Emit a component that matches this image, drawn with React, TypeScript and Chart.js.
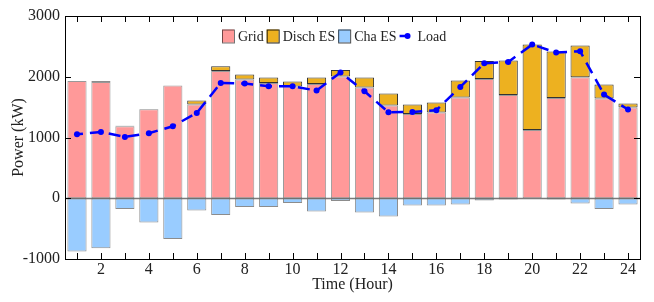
import React, { useEffect, useRef } from 'react';
import { Chart, registerables } from 'chart.js';

Chart.register(...registerables);

const hours = ['1','2','3','4','5','6','7','8','9','10','11','12','13','14','15','16','17','18','19','20','21','22','23','24'];
const gridPower = [1930,1915,1185,1465,1855,1542,2096,1953,1898,1838,1882,2003,1822,1525,1388,1410,1657,1964,1701,1125,1651,1992,1641,1493];
const dischES = [0,10,10,5,0,66,77,83,88,82,104,109,164,198,154,165,280,297,565,1405,764,522,230,66];
const chaES = [-878,-823,-176,-400,-669,-203,-274,-143,-143,-77,-219,-44,-235,-301,-120,-120,-104,-38,-22,0,-22,-88,-176,-104];
const load = [1053,1092,1010,1070,1185,1404,1898,1887,1843,1843,1772,2069,1761,1415,1421,1449,1833,2222,2244,2530,2398,2420,1706,1460];
const yTicks = [-1000, 0, 1000, 2000, 3000];

const FONT = "'Liberation Serif', 'Times New Roman', serif";
const C_GRID = '#FF9999';
const C_DISCH = '#EDB120';
const C_CHA = '#99CCFF';
const C_LOAD = '#0000FF';

const framePlugin = {
  id: 'frame',
  afterDatasetsDraw(chart: any) {
    const { ctx, chartArea, scales } = chart;
    const y0 = Math.round(scales.y.getPixelForValue(0)) + 0.5;
    ctx.save();
    ctx.strokeStyle = 'rgba(100,100,100,0.85)';
    ctx.lineWidth = 1.5;
    ctx.beginPath();
    ctx.moveTo(chartArea.left, y0);
    ctx.lineTo(chartArea.right, y0);
    ctx.stroke();
    ctx.restore();
  },
  afterDraw(chart: any) {
    const { ctx, chartArea, scales } = chart;
    const { left, right, top, bottom } = chartArea;
    ctx.save();
    ctx.strokeStyle = '#000';
    ctx.lineWidth = 1;
    ctx.strokeRect(Math.round(left) + 0.5, Math.round(top) + 0.5, Math.round(right - left), Math.round(bottom - top));
    ctx.beginPath();
    scales.x.ticks.forEach((_: any, i: number) => {
      const px = Math.round(scales.x.getPixelForTick(i)) + 0.5;
      ctx.moveTo(px, bottom);
      ctx.lineTo(px, bottom - 6);
      ctx.moveTo(px, top);
      ctx.lineTo(px, top + 6);
    });
    scales.y.ticks.forEach((_: any, i: number) => {
      const py = Math.round(scales.y.getPixelForTick(i)) + 0.5;
      ctx.moveTo(left, py);
      ctx.lineTo(left + 6, py);
      ctx.moveTo(right, py);
      ctx.lineTo(right - 6, py);
    });
    ctx.stroke();

    // legend
    ctx.font = `14px ${FONT}`;
    ctx.textBaseline = 'middle';
    ctx.fillStyle = '#222';
    const cy = 36;
    let x = 222;
    const boxes = [
      { label: 'Grid', fill: C_GRID, stroke: 'rgba(0,0,0,0.55)' },
      { label: 'Disch ES', fill: C_DISCH, stroke: 'rgba(0,0,0,0.85)' },
      { label: 'Cha ES', fill: C_CHA, stroke: 'rgba(0,0,0,0.7)' },
    ];
    boxes.forEach((b) => {
      ctx.fillStyle = b.fill;
      ctx.fillRect(x, cy - 6.5, 12, 13);
      ctx.strokeStyle = b.stroke;
      ctx.strokeRect(x + 0.5, cy - 6.5 + 0.5, 12, 13);
      ctx.fillStyle = '#222';
      ctx.fillText(b.label, x + 16, cy + 1);
      x += 16 + ctx.measureText(b.label).width + 3;
    });
    ctx.strokeStyle = C_LOAD;
    ctx.lineWidth = 2.5;
    ctx.beginPath();
    ctx.moveTo(x, cy);
    ctx.lineTo(x + 9, cy);
    ctx.stroke();
    ctx.fillStyle = C_LOAD;
    ctx.beginPath();
    ctx.arc(x + 8, cy, 3, 0, Math.PI * 2);
    ctx.fill();
    ctx.fillStyle = '#222';
    ctx.fillText('Load', x + 18, cy + 1);
    ctx.restore();
  },
};

export default function App() {
  const ref = useRef<HTMLCanvasElement>(null);
  useEffect(() => {
    document.body.style.margin = '0';
    const chart = new Chart(ref.current!, {
      type: 'bar',
      data: {
        labels: hours,
        datasets: [
          {
            type: 'line',
            label: 'Load',
            data: load,
            stack: 'load',
            order: 0,
            borderColor: C_LOAD,
            backgroundColor: C_LOAD,
            borderWidth: 2.5,
            borderDash: [12, 7],
            borderDashOffset: 6,
            pointRadius: 3,
            pointBorderWidth: 0,
            pointBackgroundColor: C_LOAD,
            tension: 0,
            fill: false,
          } as any,
          {
            label: 'Grid',
            data: gridPower,
            stack: 's',
            order: 1,
            backgroundColor: C_GRID,
            borderColor: 'rgba(0,0,0,0.4)',
            borderWidth: 1,
            borderSkipped: false,
            barPercentage: 0.8,
            categoryPercentage: 1,
          },
          {
            label: 'Disch ES',
            data: dischES,
            stack: 's',
            order: 1,
            backgroundColor: C_DISCH,
            borderColor: 'rgba(0,0,0,0.8)',
            borderWidth: 1,
            borderSkipped: false,
            barPercentage: 0.8,
            categoryPercentage: 1,
          },
          {
            label: 'Cha ES',
            data: chaES,
            stack: 's',
            order: 1,
            backgroundColor: C_CHA,
            borderColor: 'rgba(0,0,0,0.45)',
            borderWidth: 1,
            borderSkipped: false,
            barPercentage: 0.8,
            categoryPercentage: 1,
          },
        ],
      },
      options: {
        responsive: false,
        animation: false,
        layout: { padding: { top: 16, right: 14, left: 0, bottom: 0 } },
        plugins: { legend: { display: false }, tooltip: { enabled: false } },
        scales: {
          x: {
            type: 'category',
            stacked: true,
            offset: true,
            grid: { display: false, drawTicks: false },
            border: { display: false },
            ticks: {
              autoSkip: false,
              maxRotation: 0,
              padding: 1,
              color: '#222',
              font: { family: FONT, size: 16 },
              callback: (_v: any, i: number) => (Number(hours[i]) % 2 === 0 ? hours[i] : ''),
            },
            title: {
              display: true,
              text: 'Time (Hour)',
              color: '#222',
              font: { family: FONT, size: 16 },
              padding: { top: 0, bottom: 8 },
            },
            afterFit: (s: any) => { s.height = 43; },
          },
          y: {
            stacked: true,
            min: -1000,
            max: 3000,
            afterBuildTicks: (s: any) => { s.ticks = yTicks.map((v) => ({ value: v })); },
            grid: { display: false, drawTicks: false },
            border: { display: false },
            ticks: {
              padding: 5,
              color: '#222',
              font: { family: FONT, size: 16 },
              callback: (v: any) => String(v),
            },
            title: {
              display: true,
              text: 'Power (kW)',
              color: '#222',
              font: { family: FONT, size: 16 },
              padding: { top: 9, bottom: 0 },
            },
            afterFit: (s: any) => { s.width = 65; },
          },
        },
      },
      plugins: [framePlugin],
    });
    return () => chart.destroy();
  }, []);
  return (
    <div style={{ width: 654, height: 302 }}>
      <canvas ref={ref} width={654} height={302} />
    </div>
  );
}
